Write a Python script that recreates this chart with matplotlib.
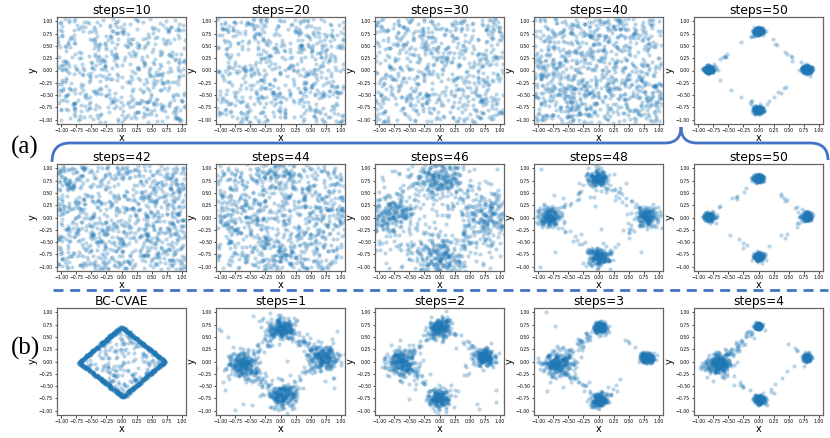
import numpy as np
import matplotlib
matplotlib.use("Agg")
import matplotlib.pyplot as plt
from matplotlib.path import Path
from matplotlib.patches import PathPatch
from matplotlib.lines import Line2D

# ---------------- data (distribution descriptions) ----
titles = [
    ["steps=10", "steps=20", "steps=30", "steps=40", "steps=50"],
    ["steps=42", "steps=44", "steps=46", "steps=48", "steps=50"],
    ["BC-CVAE", "steps=1", "steps=2", "steps=3", "steps=4"],
]
# number of roughly uniform points in each panel
uniform_counts = [
    [560, 600, 640, 700, 0],
    [900, 520, 160, 25, 0],
    [0, 20, 15, 5, 0],
]
# cluster centers (top, right, bottom, left) per panel kind
centers_far = [(0.0, 0.80), (0.80, 0.02), (0.0, -0.80), (-0.82, 0.02)]
centers_s1 = [(0.02, 0.68), (0.72, 0.08), (0.03, -0.70), (-0.65, -0.05)]
centers_s2 = [(0.00, 0.70), (0.75, 0.10), (0.00, -0.75), (-0.63, -0.03)]
centers_s3 = [(0.02, 0.70), (0.80, 0.08), (0.02, -0.78), (-0.68, -0.05)]
centers_s4 = [(0.00, 0.72), (0.80, 0.08), (0.02, -0.78), (-0.68, -0.05)]
# cluster spreads (top, right, bottom, left)
std_s40 = [0.35, 0.35, 0.35, 0.35]
std_s44 = [0.30, 0.30, 0.30, 0.30]
std_s46 = [0.23, 0.24, 0.23, 0.23]
std_s48 = [0.095, 0.10, 0.10, 0.10]
std_s50 = [0.04, 0.04, 0.04, 0.04]
std_s1 = [0.12, 0.12, 0.12, 0.13]
std_s2 = [0.095, 0.085, 0.095, 0.13]
std_s3 = [0.055, 0.055, 0.07, 0.13]
std_s4 = [0.028, 0.033, 0.045, 0.10]
# points per cluster
count_s40 = [60, 60, 60, 60]
count_s44 = [110, 110, 120, 110]
count_s46 = [230, 220, 230, 220]
count_s48 = [180, 170, 190, 180]
count_s50 = [200, 200, 200, 200]
count_s1 = [220, 220, 220, 230]
count_s2 = [200, 190, 200, 240]
count_s3 = [200, 190, 200, 260]
count_s4 = [180, 150, 190, 270]
# bridge points along the diamond edges (TR, RB, BL, LT)
bridge_s48 = [18, 14, 14, 16]
bridge_s50 = [9, 7, 7, 8]
bridge_s1 = [40, 30, 40, 45]
bridge_s2 = [25, 10, 20, 35]
bridge_s3 = [8, 6, 22, 40]
bridge_s4 = [5, 8, 12, 45]
# BC-CVAE diamond: vertices, edge points and interior points
bc_vertices = [(0.0, 0.70), (0.72, 0.0), (0.03, -0.72), (-0.70, -0.02)]
bc_edge_points = [220, 220, 220, 220]
bc_interior = 150

tick_vals = [-1.00, -0.75, -0.50, -0.25, 0.00, 0.25, 0.50, 0.75, 1.00]

rng = np.random.default_rng(7)


def clusters(centers, stds, counts):
    pts = []
    for (cx, cy), s, n in zip(centers, stds, counts):
        pts.append(np.column_stack([rng.normal(cx, s, n), rng.normal(cy, s, n)]))
    return np.vstack(pts) if pts else np.zeros((0, 2))


def bridges(centers, counts, noise):
    pts = []
    for k, n in enumerate(counts):
        a = np.array(centers[k])
        b = np.array(centers[(k + 1) % 4])
        t = rng.uniform(0.12, 0.88, n)
        p = a[None, :] + t[:, None] * (b - a)[None, :]
        p += rng.normal(0, noise, p.shape)
        pts.append(p)
    return np.vstack(pts)


def uniform(n):
    return rng.uniform(-1.06, 1.06, (n, 2))


def panel_points(r, c):
    u = uniform(uniform_counts[r][c])
    if r == 0 and c < 3:
        return u
    if r == 1 and c == 0:
        return u
    if r == 0 and c == 3:
        return np.vstack([u, clusters(centers_far, std_s40, count_s40)])
    if c == 4 and r in (0, 1):
        return np.vstack([clusters(centers_far, std_s50, count_s50),
                          bridges(centers_far, bridge_s50, 0.03)])
    if r == 1 and c == 1:
        return np.vstack([u, clusters(centers_far, std_s44, count_s44)])
    if r == 1 and c == 2:
        return np.vstack([u, clusters(centers_far, std_s46, count_s46)])
    if r == 1 and c == 3:
        return np.vstack([u, clusters(centers_far, std_s48, count_s48),
                          bridges(centers_far, bridge_s48, 0.05)])
    if r == 2 and c == 0:
        pts = []
        for k, n in enumerate(bc_edge_points):
            a = np.array(bc_vertices[k])
            b = np.array(bc_vertices[(k + 1) % 4])
            t = rng.uniform(0, 1, n)
            p = a[None, :] + t[:, None] * (b - a)[None, :]
            p += rng.normal(0, 0.012, p.shape)
            pts.append(p)
        inner = rng.uniform(-0.7, 0.7, (bc_interior * 3, 2))
        inner = inner[np.abs(inner[:, 0]) + np.abs(inner[:, 1]) < 0.66][:bc_interior]
        pts.append(inner)
        return np.vstack(pts)
    spec = {
        1: (centers_s1, std_s1, count_s1, bridge_s1, 0.07),
        2: (centers_s2, std_s2, count_s2, bridge_s2, 0.06),
        3: (centers_s3, std_s3, count_s3, bridge_s3, 0.05),
        4: (centers_s4, std_s4, count_s4, bridge_s4, 0.04),
    }[c]
    return np.vstack([u, clusters(spec[0], spec[1], spec[2]),
                      bridges(spec[0], spec[3], spec[4])])


# ---------------- figure -------------------------------------------------
W, H = 830, 438
fig = plt.figure(figsize=(W / 100, H / 100), dpi=100)

col_left = [57, 216, 375, 534, 694]
row_top = [17, 164, 308]
ax_w, ax_h = 129, 107

for r in range(3):
    for c in range(5):
        l = col_left[c] / W
        b = 1 - (row_top[r] + ax_h) / H
        ax = fig.add_axes([l, b, ax_w / W, ax_h / H])
        pts = panel_points(r, c)
        ax.scatter(pts[:, 0], pts[:, 1], s=9, color="#1f77b4", alpha=0.3,
                   linewidths=0)
        ax.set_xlim(-1.07, 1.07)
        ax.set_ylim(-1.09, 1.09)
        ax.set_xticks(tick_vals)
        ax.set_yticks(tick_vals)
        ax.set_xticklabels([f"{v:.2f}".replace("-", "\u2212") for v in tick_vals])
        ax.set_yticklabels([f"{v:.2f}".replace("-", "\u2212") for v in tick_vals])
        ax.tick_params(labelsize=3.3, length=1.8, width=0.5, pad=1)
        for sp in ax.spines.values():
            sp.set_color("#666666")
            sp.set_linewidth(0.9)
        ax.set_xlabel("x", fontsize=7, labelpad=0)
        ax.set_ylabel("y", fontsize=7, labelpad=1)
        ax.set_title(titles[r][c], fontsize=8.8, pad=2)

blue = "#4472C4"


def fp(x, y):
    return (x / W, 1 - y / H)


verts = [fp(52, 162), fp(52, 143), fp(70, 143),
         fp(665, 143),
         fp(677, 143), fp(681, 136), fp(681, 127),
         fp(681, 136), fp(685, 143), fp(697, 143),
         fp(810, 143),
         fp(828, 143), fp(828, 160)]
codes = [Path.MOVETO, Path.CURVE3, Path.CURVE3,
         Path.LINETO,
         Path.CURVE4, Path.CURVE4, Path.CURVE4,
         Path.CURVE4, Path.CURVE4, Path.CURVE4,
         Path.LINETO,
         Path.CURVE3, Path.CURVE3]
brace = PathPatch(Path(verts, codes), transform=fig.transFigure,
                  facecolor="none", edgecolor=blue, linewidth=2.0)
fig.add_artist(brace)

dash = Line2D([53 / W, 828 / W], [1 - 290 / H, 1 - 290 / H],
              transform=fig.transFigure, color=blue, linewidth=2.0,
              dashes=(3.6, 2.4))
fig.add_artist(dash)

fig.text(25 / W, 1 - 147 / H, "(a)", fontsize=18, family="Liberation Serif",
         ha="center", va="center")
fig.text(25 / W, 1 - 348 / H, "(b)", fontsize=18, family="Liberation Serif",
         ha="center", va="center")

fig.savefig("out.png", dpi=100)
